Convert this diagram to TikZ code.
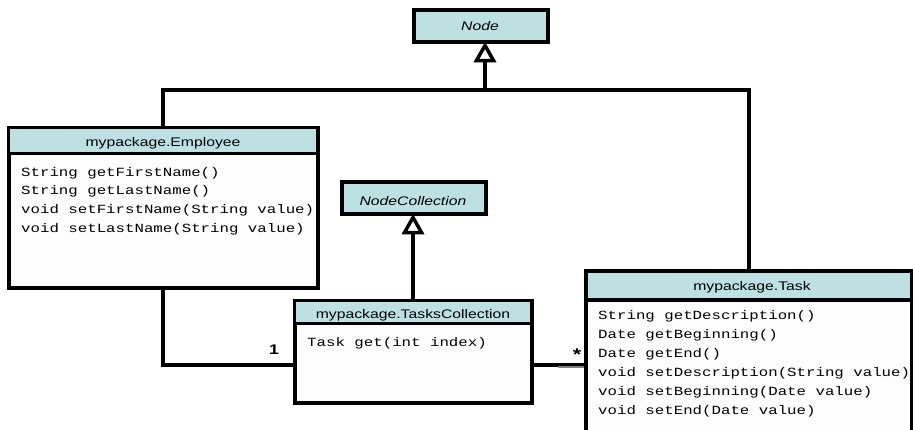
\documentclass[tikz,border=0pt]{standalone}
\usepackage{fontspec}
\newfontfamily\umlsans[FakeStretch=1.26]{Liberation Sans}
\newfontfamily\umlmono[FakeStretch=1.26]{Liberation Mono}
\definecolor{headfill}{RGB}{189,225,226}
\definecolor{bodyfill}{RGB}{253,253,253}

\begin{document}
\begin{tikzpicture}[x=1pt,y=-1pt,
  classbox/.style={draw, line width=4pt, fill=bodyfill, inner sep=0pt, rectangle},
  headbox/.style={draw, line width=3.5pt, fill=headfill, inner sep=0pt, rectangle, anchor=north},
  headtext/.style={font=\umlsans\fontsize{12.5}{14}\selectfont, inner sep=0pt, anchor=base},
  abstext/.style={headtext, font=\umlsans\itshape\fontsize{12.5}{14}\selectfont},
  meth/.style={font=\umlmono\fontsize{12.5}{14}\selectfont, inner sep=0pt, anchor=base west},
  assoc/.style={line width=4.5pt},
  gentri/.style={draw, line width=3.5pt, fill=white, line join=miter},
  mult/.style={font=\umlsans\bfseries\fontsize{14}{16}\selectfont, inner sep=0pt}
]
\useasboundingbox (0,0) rectangle (913,429);
\fill[white] (0,0) rectangle (913,429);

% abstract base classes
\node[classbox, fill=headfill, minimum width=134pt, minimum height=32pt] (node) at (481,25.5) {};
\node[abstext] (nodet) at (480,30) {Node};

\node[classbox, fill=headfill, minimum width=144pt, minimum height=32pt] (nc) at (414,197.5) {};
\node[abstext] (nct) at (413,205) {NodeCollection};

% mypackage.Employee
\node[classbox, minimum width=309pt, minimum height=160pt] (emp) at (163,207.5) {};
\node[headbox, minimum width=309pt, minimum height=26pt] (emph) at (emp.north) {};
\node[headtext] (empt) at (163,146) {mypackage.Employee};
\foreach \m [count=\i] in {String getFirstName(), String getLastName(),
    void setFirstName(String value), void setLastName(String value)}
  \node[meth] (emp-m\i) at (21,157.5+18.7*\i) {\m};

% mypackage.TasksCollection
\node[classbox, minimum width=237pt, minimum height=102pt] (tc) at (413,351.5) {};
\node[headbox, minimum width=237pt, minimum height=23pt] (tch) at (tc.north) {};
\node[headtext] (tct) at (413,318) {mypackage.TasksCollection};
\node[meth] (tc-m1) at (307,346) {Task get(int index)};

% mypackage.Task (runs past the lower edge)
\node[classbox, minimum width=326pt, minimum height=180pt] (task) at (749,361) {};
\node[headbox, minimum width=326pt, minimum height=29pt] (taskh) at (task.north) {};
\node[headtext] (taskt) at (752,290) {mypackage.Task};
\foreach \m [count=\i] in {String getDescription(), Date getBeginning(), Date getEnd(),
    void setDescription(String value), void setBeginning(Date value), void setEnd(Date value)}
  \node[meth] (task-m\i) at (598,300+19.1*\i) {\m};

% generalisation to Node
\coordinate (jn) at (485,90);
\coordinate (tipA) at ([yshift=-2pt]jn |- node.south);
\draw[assoc] (emp.north) |- (jn);
\draw[assoc] (task.north) |- (jn);
\draw[assoc] (jn) -- (tipA);
\draw[gentri] (tipA) -- ++(-8.5,15) -- ++(17,0) -- cycle;

% generalisation to NodeCollection
\coordinate (tipB) at ([yshift=-2pt]tc.north |- nc.south);
\draw[assoc] (tc.north) -- (tipB);
\draw[gentri] (tipB) -- ++(-8.5,15) -- ++(17,0) -- cycle;

% associations
\coordinate (tcl) at (tc.west |- 0,365);
\coordinate (tcr) at (tc.east |- 0,365);
\coordinate (tkl) at (task.west |- 0,365);
\draw[assoc] (emp.south) |- (tcl);
\draw[assoc] (tcr) -- (tkl);
\draw[gray, line width=1.5pt] (558,367) -- (tkl |- 0,367);
\node[mult] (m1) at (274,350) {1};
\node[mult, font=\umlsans\bfseries\fontsize{17}{18}\selectfont] (m2) at (577,355) {*};
\end{tikzpicture}
\end{document}
